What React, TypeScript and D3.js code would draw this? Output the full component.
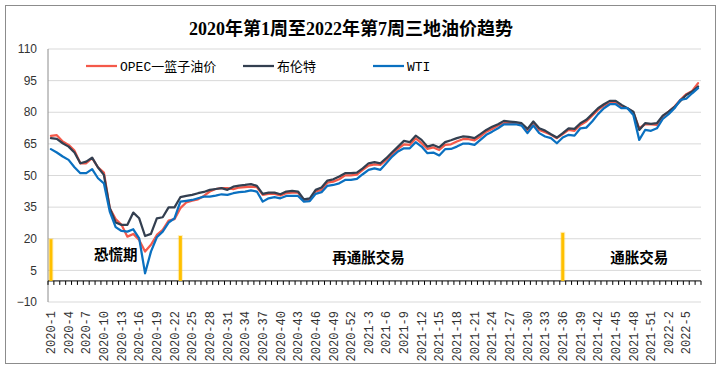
import React from "react";
import * as d3 from "d3";

// week categories: 2020-1..2020-52, 2021-1..2021-52, 2022-1..2022-7
const years = [2020, 2021, 2022];
const weeksPerYear = [52, 52, 7];
const weeks: string[] = [];
years.forEach((yr, k) => {
  for (let w = 1; w <= weeksPerYear[k]; w++) weeks.push(yr + "-" + w);
});

const opec = [
  68.8, 69.1, 66.1, 64.5, 61.8, 55.8, 55.8, 58.2, 53.9, 51.4,
  34.5, 29.3, 26.6, 21.0, 22.3, 19.4, 13.9, 17.1, 21.8, 24.2,
  28.6, 29.3, 34.5, 37.2, 38.1, 38.7, 40.3, 42.4, 43.6, 44.0,
  44.0, 43.5, 44.3, 44.5, 44.7, 44.5, 40.8, 41.3, 41.3, 40.5,
  41.6, 41.9, 41.9, 38.1, 38.4, 42.4, 43.2, 46.6, 47.1, 48.2,
  50.1, 50.1, 50.4, 52.7, 54.7, 55.3, 55.0, 57.4, 60.1, 62.6,
  64.8, 64.5, 67.6, 65.3, 62.6, 63.3, 62.1, 64.5, 64.8, 66.1,
  67.2, 67.2, 66.7, 68.5, 70.8, 72.1, 73.7, 74.8, 74.8, 74.6,
  74.0, 71.2, 75.1, 71.6, 70.5, 69.3, 67.7, 69.6, 71.6, 71.2,
  74.0, 75.6, 78.4, 81.1, 83.2, 84.3, 84.3, 82.7, 81.9, 79.9,
  72.4, 74.3, 74.3, 74.0, 78.0, 80.3, 82.7, 85.9, 88.6, 90.1,
  93.8,
];

const brent = [
  67.7, 67.4, 65.3, 63.7, 60.9, 55.8, 56.6, 58.5, 53.8, 50.3,
  34.5, 27.7, 26.6, 26.6, 32.4, 29.7, 21.3, 22.3, 29.7, 30.2,
  34.9, 34.9, 39.7, 40.3, 40.8, 41.6, 42.2, 43.2, 43.6, 44.0,
  43.2, 44.7, 45.2, 45.5, 45.9, 45.1, 41.3, 41.9, 41.9, 41.1,
  42.4, 42.7, 42.4, 38.7, 39.2, 43.2, 44.3, 47.6, 48.2, 49.5,
  51.1, 51.1, 51.4, 53.4, 55.8, 56.3, 55.8, 58.2, 61.0, 63.7,
  66.4, 65.8, 68.9, 66.9, 63.7, 64.5, 63.3, 65.8, 66.7, 67.7,
  68.5, 68.3, 67.7, 69.6, 71.6, 73.1, 74.3, 75.9, 75.6, 75.3,
  74.8, 72.1, 75.6, 72.4, 71.3, 69.6, 68.0, 70.1, 72.4, 72.1,
  74.8, 76.4, 79.1, 81.9, 83.8, 85.4, 85.4, 83.5, 81.9, 80.3,
  71.6, 74.8, 74.5, 74.8, 78.4, 80.3, 82.5, 85.4, 88.2, 89.8,
  92.2,
];

const wti = [
  62.5, 60.9, 59.0, 57.4, 53.9, 51.1, 51.1, 53.0, 48.7, 46.3,
  32.9, 25.5, 23.7, 23.4, 24.5, 20.2, 3.6, 13.9, 20.7, 23.4,
  27.7, 29.7, 37.6, 38.0, 38.4, 39.2, 40.0, 40.0, 40.5, 41.1,
  40.8, 41.6, 42.1, 42.4, 42.9, 42.4, 37.6, 39.2, 39.7, 39.2,
  40.3, 40.3, 40.3, 37.6, 37.9, 41.3, 42.1, 45.1, 45.5, 46.3,
  47.9, 47.9, 48.4, 50.6, 52.7, 53.4, 52.7, 55.8, 59.0, 61.4,
  62.9, 62.9, 65.8, 63.7, 60.6, 60.9, 59.5, 62.5, 62.6, 63.7,
  65.1, 65.1, 64.5, 66.9, 69.3, 70.8, 72.4, 74.3, 74.3, 74.3,
  73.7, 70.1, 73.7, 70.1, 68.5, 67.7, 65.3, 68.0, 69.3, 68.9,
  72.4, 72.7, 75.6, 79.1, 81.9, 83.8, 83.8, 81.9, 81.9, 78.7,
  66.9, 71.6, 71.2, 72.4, 76.8, 79.1, 81.9, 85.9, 86.4, 89.0,
  91.4,
];

const seriesNames = ["OPEC一篮子油价", "布伦特", "WTI"];
const seriesColors = ["#f4594a", "#333f50", "#0a70c0"];
const seriesData = [opec, brent, wti];

// phase markers (orange bars) and phase labels
const markerWeeks = ["2020-1", "2020-23", "2021-36"];
const markerValues = [19.8, 21.3, 22.8];
const phaseNames = ["恐慌期", "再通胀交易", "通胀交易"];
const phaseWeeks = ["2020-12", "2021-3", "2021-49"];
const phaseValues = [12.5, 11, 11];

const yTicks = [-10, 5, 20, 35, 50, 65, 80, 95, 110];

const W = 721;
const H = 370;
const left = 48;
const right = 701;
const top = 49;
const bottom = 302;

export default function App() {
  const x = d3.scaleBand<string>().domain(weeks).range([left, right]);
  const bw = x.bandwidth();
  const cx = (w: string) => (x(w) as number) + bw / 2;
  const y = d3.scaleLinear().domain([-10, 110]).range([bottom, top]);
  const y0 = y(0);

  const line = d3
    .line<number>()
    .x((_, i) => cx(weeks[i]))
    .y((d) => y(d));

  const tickLabels = weeks.filter((_, i) => i % 3 === 0);

  return (
    <div style={{ position: "absolute", left: 0, top: 0 }}>
      <svg width={W} height={H} style={{ display: "block", background: "#fff" }}>
        <rect x={0} y={0} width={W} height={H} fill="#fff" />
        <rect x={5.5} y={5.5} width={710} height={358} fill="none" stroke="#8c8c8c" strokeWidth={1} />

        <text
          x={351}
          y={35}
          textAnchor="middle"
          fontFamily="'Liberation Serif', 'Noto Sans CJK SC', serif"
          fontWeight="bold"
          fontSize={18}
          fill="#000"
        >
          2020年第1周至2022年第7周三地油价趋势
        </text>

        {/* grid */}
        {yTicks.map((t) => (
          <line key={"g" + t} x1={left} x2={right} y1={y(t)} y2={y(t)} stroke="#d9d9d9" strokeWidth={1} />
        ))}
        {yTicks.map((t) => (
          <text
            key={"yl" + t}
            x={37}
            y={y(t)}
            dy="0.35em"
            textAnchor="end"
            fontFamily="'Liberation Sans', Arial, sans-serif"
            fontSize={12}
            fill="#333"
          >
            {t < 0 ? "\u2212" + Math.abs(t) : t}
          </text>
        ))}
        <line x1={left} x2={left} y1={top} y2={bottom} stroke="#8c8c8c" strokeWidth={1} />

        {/* x axis at zero */}
        <line x1={left} x2={right} y1={y0} y2={y0} stroke="#000" strokeWidth={1} />
        {d3.range(weeks.length + 1).map((i) => (
          <line key={"t" + i} x1={left + i * bw} x2={left + i * bw} y1={y0} y2={y0 + 4} stroke="#000" strokeWidth={1} />
        ))}
        {tickLabels.map((w) => (
          <text
            key={"xl" + w}
            x={cx(w)}
            y={311}
            transform={`rotate(-90, ${cx(w)}, 311)`}
            textAnchor="end"
            dy="0.35em"
            fontFamily="'Liberation Mono', 'Noto Sans CJK SC', monospace"
            fontSize={12}
            fill="#333"
          >
            {w}
          </text>
        ))}

        {/* orange phase markers */}
        {markerWeeks.map((w, i) => (
          <g key={"m" + w}>
            <rect x={cx(w) - 2.5} y={y(markerValues[i]) - 1} width={5} height={y0 - y(markerValues[i]) + 1} fill="#ffc000" opacity={0.25} />
            <rect x={cx(w) - 1.5} y={y(markerValues[i])} width={3} height={y0 - y(markerValues[i])} fill="#ffc000" />
          </g>
        ))}

        {/* series */}
        {seriesData.map((d, k) => (
          <path
            key={"s" + k}
            d={line(d) || ""}
            fill="none"
            stroke={seriesColors[k]}
            strokeWidth={2.25}
            strokeLinejoin="round"
            strokeLinecap="round"
          />
        ))}

        {/* phase labels */}
        {phaseNames.map((n, i) => (
          <text
            key={"p" + n}
            x={cx(phaseWeeks[i])}
            y={y(phaseValues[i])}
            dy="0.35em"
            textAnchor="middle"
            fontFamily="'Noto Sans CJK SC', sans-serif"
            fontWeight="bold"
            fontSize={14.5}
            fill="#000"
          >
            {n}
          </text>
        ))}

        {/* legend */}
        {seriesNames.map((n, k) => {
          const lx = [86, 243, 373][k];
          return (
            <g key={"lg" + k}>
              <line x1={lx} x2={lx + 31} y1={66} y2={66} stroke={seriesColors[k]} strokeWidth={2.25} />
              <text
                x={lx + 34}
                y={66}
                dy="0.35em"
                fontFamily="'Liberation Mono', 'Noto Sans CJK SC', monospace"
                fontSize={13}
                fill="#000"
              >
                {n}
              </text>
            </g>
          );
        })}
      </svg>
    </div>
  );
}
